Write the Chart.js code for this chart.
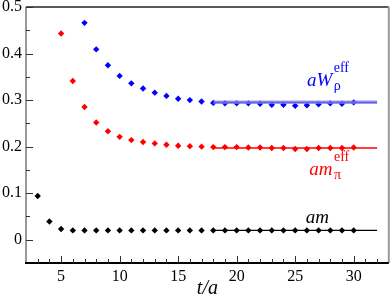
<!DOCTYPE html>
<html>
<head>
<meta charset="utf-8">
<script src="https://cdn.jsdelivr.net/npm/chart.js@4"></script>
<style>
  html, body { margin: 0; padding: 0; background: #fff; }
  #wrap { width: 392px; height: 296px; }
</style>
</head>
<body>
<div id="wrap"><canvas id="effChart" width="392" height="296"></canvas></div>
<script>
// data
const tAm = [3, 4, 5, 6, 7, 8, 9, 10, 11, 12, 13, 14, 15, 16, 17, 18, 19, 20, 21, 22, 23, 24, 25, 26, 27, 28, 29, 30];
const am = [0.094, 0.039, 0.023, 0.020, 0.020, 0.020, 0.020, 0.020, 0.020, 0.020, 0.020, 0.020, 0.020, 0.020,
            0.020, 0.020, 0.020, 0.020, 0.020, 0.020, 0.020, 0.020, 0.020, 0.020, 0.020, 0.020, 0.020, 0.020];

const tPi = [5, 6, 7, 8, 9, 10, 11, 12, 13, 14, 15, 16, 17, 18, 19, 20, 21, 22, 23, 24, 25, 26, 27, 28, 29, 30];
const amPi = [0.443, 0.341, 0.285, 0.252, 0.233, 0.221, 0.214, 0.210, 0.207, 0.204, 0.202, 0.201, 0.200,
              0.199, 0.199, 0.199, 0.198, 0.198, 0.197, 0.197, 0.195, 0.195, 0.197, 0.197, 0.197, 0.198];

const tRho = [7, 8, 9, 10, 11, 12, 13, 14, 15, 16, 17, 18, 19, 20, 21, 22, 23, 24, 25, 26, 27, 28, 29, 30];
const aWrho = [0.466, 0.409, 0.375, 0.352, 0.336, 0.325, 0.316, 0.309, 0.303, 0.300, 0.297, 0.294,
               0.293, 0.293, 0.293, 0.292, 0.290, 0.290, 0.288, 0.289, 0.291, 0.293, 0.292, 0.295];

// plateau fits
const fitT = [18, 32];
const fitAm = 0.020;
const fitPi = 0.197;
const fitRho = 0.2953;
const fitRhoLo = 0.2918;
const fitRhoHi = 0.2990;

const xTicks = [5, 10, 15, 20, 25, 30];
const yTicks = [0, 0.1, 0.2, 0.3, 0.4, 0.5];

const serif = '"Liberation Serif", "Times New Roman", serif';
Chart.defaults.font.family = serif;

function pts(xs, ys) { return xs.map((x, i) => ({ x: x, y: ys[i] })); }
function flat(xs, v) { return xs.map(x => ({ x: x, y: v })); }

function marker(color) {
    return {
        showLine: false, pointStyle: 'rectRot', pointRadius: 3.2, pointHoverRadius: 3.2,
        backgroundColor: color, borderColor: color, borderWidth: 0
    };
}
function fitLine(color, width) {
    return { showLine: true, pointRadius: 0, borderColor: color, borderWidth: width, fill: false };
}

// labels next to the plateaus (data coords of left baseline)
const labels = [
    { main: 'aW', sub: 'ρ', sup: 'eff', t: 26.0, v: 0.330, color: '#0000ff' },
    { main: 'am', sub: 'π', sup: 'eff', t: 26.2, v: 0.139, color: '#ff0000' },
    { main: 'am', sub: '', sup: '', t: 25.9, v: 0.036, color: '#000000' }
];

const decor = {
    id: 'decor',
    afterDatasetsDraw(chart) {
        const c = chart.ctx, a = chart.chartArea;
        const xs = chart.scales.x, ys = chart.scales.y;
        c.save();
        // frame
        c.lineWidth = 1.5;
        c.strokeStyle = '#222';
        c.beginPath(); c.moveTo(a.left, a.top); c.lineTo(a.right, a.top); c.stroke();
        c.lineWidth = 2;
        c.strokeStyle = '#999';
        c.beginPath(); c.moveTo(a.right, a.top); c.lineTo(a.right, a.bottom); c.stroke();
        c.beginPath(); c.moveTo(a.left, a.top); c.lineTo(a.left, a.bottom); c.stroke();
        c.strokeStyle = '#000';
        c.beginPath(); c.moveTo(a.left - 1, a.bottom); c.lineTo(a.right, a.bottom); c.stroke();
        // inward ticks
        c.lineWidth = 1;
        c.strokeStyle = '#333';
        for (let t = 3; t <= 32; t++) {
            const px = Math.round(xs.getPixelForValue(t)) + 0.5;
            const len = t % 5 === 0 ? 7 : 4;
            c.beginPath(); c.moveTo(px, a.bottom); c.lineTo(px, a.bottom - len); c.stroke();
        }
        for (let k = 0; k <= 10; k++) {
            const v = k * 0.05;
            const py = Math.round(ys.getPixelForValue(v)) + 0.5;
            const len = k % 2 === 0 ? 7 : 4;
            c.beginPath(); c.moveTo(a.left, py); c.lineTo(a.left + len, py); c.stroke();
        }
        // curve labels
        labels.forEach(l => {
            let x = xs.getPixelForValue(l.t), y = ys.getPixelForValue(l.v);
            c.fillStyle = l.color;
            c.textBaseline = 'alphabetic';
            c.textAlign = 'left';
            c.font = 'italic 19px ' + serif;
            c.fillText(l.main, x, y);
            const w = c.measureText(l.main).width + 1.5;
            c.font = '14px ' + serif;
            if (l.sup) c.fillText(l.sup, x + w, y - 14);
            if (l.sub) c.fillText(l.sub, x + w, y + 4);
        });
        // x axis title
        c.fillStyle = '#000';
        c.font = 'italic 20px ' + serif;
        c.textAlign = 'center';
        c.fillText('t/a', (a.left + a.right) / 2, 294);
        c.restore();
    }
};

const ctx = document.getElementById('effChart').getContext('2d');
const chart = new Chart(ctx, {
    type: 'scatter',
    data: {
        datasets: [
            Object.assign({ data: flat(fitT, fitRhoLo) }, fitLine('rgba(0,0,0,0)', 0)),
            Object.assign({ data: flat(fitT, fitRhoHi) }, fitLine('rgba(0,0,0,0)', 0),
                { fill: '-1', backgroundColor: 'rgba(120,120,235,0.75)' }),
            Object.assign({ data: flat(fitT, fitRho) }, fitLine('#2020c0', 1.2)),
            Object.assign({ data: flat(fitT, fitPi) }, fitLine('#ff0000', 1.6)),
            Object.assign({ data: flat(fitT, fitAm) }, fitLine('#000000', 1.4)),
            Object.assign({ data: pts(tRho, aWrho) }, marker('#0000ff')),
            Object.assign({ data: pts(tPi, amPi) }, marker('#ff0000')),
            Object.assign({ data: pts(tAm, am) }, marker('#000000'))
        ]
    },
    options: {
        responsive: false,
        animation: false,
        devicePixelRatio: 1,
        layout: { padding: { top: 7, right: 2, left: 0, bottom: 0 } },
        plugins: { legend: { display: false }, tooltip: { enabled: false } },
        scales: {
            x: {
                type: 'linear', min: 2, max: 33,
                grid: { display: false, drawTicks: false },
                border: { display: false },
                afterBuildTicks: s => { s.ticks = xTicks.map(v => ({ value: v })); },
                afterFit: s => { s.height = 33; s.paddingLeft = 0; s.paddingRight = 0; },
                ticks: { padding: 4, color: '#000', maxRotation: 0, font: { family: serif, size: 16 } }
            },
            y: {
                type: 'linear', min: -0.05, max: 0.5,
                grid: { display: false, drawTicks: false },
                border: { display: false },
                afterBuildTicks: s => { s.ticks = yTicks.map(v => ({ value: v })); },
                afterFit: s => { s.width = 26; s.paddingTop = 0; s.paddingBottom = 0; },
                ticks: {
                    padding: 4, color: '#000', font: { family: serif, size: 16 },
                    callback: v => v === 0 ? '0' : v.toFixed(1)
                }
            }
        }
    },
    plugins: [decor]
});
</script>
</body>
</html>
